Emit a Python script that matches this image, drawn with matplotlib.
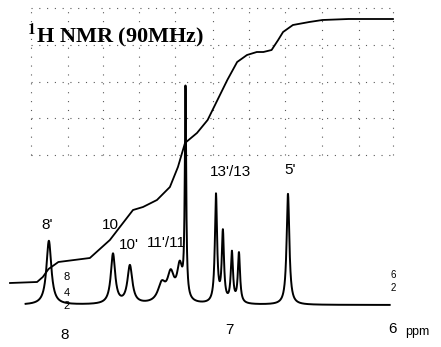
import numpy as np
import matplotlib
matplotlib.use('Agg')
from matplotlib import pyplot as plt

############## DATA ################

# peak table: shift [ppm], height above baseline, half width [ppm]
peak_ppm    = [8.098, 7.707, 7.604, 7.410, 7.355, 7.300, 7.265, 7.079, 7.037, 6.982, 6.939, 6.640]
peak_height = [64,    50,    38,    18,    27,    34,    208,   108,   70,    50,    50,    111]
peak_hw     = [0.018, 0.016, 0.018, 0.028, 0.025, 0.020, 0.005, 0.008, 0.008, 0.008, 0.008, 0.010]
baseline = 42
spec_range = (8.24, 6.02)

# integral trace, read point by point (ppm, height)
integral_ppm = [8.335, 8.17, 8.135, 8.10, 8.04, 7.848, 7.726, 7.665, 7.585, 7.524, 7.439,
                7.360, 7.311, 7.268, 7.195, 7.13, 7.07, 7.01, 6.95, 6.89, 6.83, 6.79,
                6.74, 6.70, 6.67, 6.61, 6.51, 6.43, 6.27, 6.00]
integral_val = [64, 65, 70, 78, 85, 89, 107, 120, 137, 140, 147,
                160, 180, 204, 214, 227, 247, 267, 285, 292, 295, 295,
                297, 307, 315, 322, 325, 327, 328, 328]

grid_ppm = [8.21, 7.98, 7.77, 7.55, 7.33, 7.10, 6.88, 6.66, 6.43, 6.21, 6.00]
grid_y = [339, 302, 265, 229, 192]

peak_labels = [("8'", 8.11, 122), ("10", 7.72, 122), ("10'", 7.61, 102),
               ("11'/11", 7.38, 104), ("13'/13", 6.99, 175), ("5'", 6.63, 177)]
tick_ppm = [8, 7, 6]
tick_labels = ['8', '7', '6']
tick_height = [12, 17, 18]

############## PLOT ################

plt.rcParams['mathtext.fontset'] = 'stix'

fig = plt.figure(figsize=(4.41, 3.47), dpi=100)
ax = fig.add_axes([0, 0, 1, 1])
ax.set_xlim(8.396, 5.707)
ax.set_ylim(0, 347)
ax.axis('off')

# dotted grid in the upper part of the chart paper
for g in grid_ppm:
    ax.plot([g, g], [min(grid_y), max(grid_y)], color='0.35', lw=0.8,
            linestyle=(0, (1, 7)))
for gy in grid_y:
    ax.plot([grid_ppm[0], grid_ppm[-1]], [gy, gy], color='0.35', lw=0.8,
            linestyle=(0, (1, 6)))

# spectrum as a sum of Lorentzian lines
x = np.linspace(spec_range[0], spec_range[1], 3000)
y = np.full_like(x, baseline, dtype=float)
for p, h, w in zip(peak_ppm, peak_height, peak_hw):
    y += h * w**2 / ((x - p)**2 + w**2)
ax.plot(x, y, color='black', lw=1.4)

# integral
ax.plot(integral_ppm, integral_val, color='black', lw=1.3)

ax.text(8.23, 312, r'$^{\mathbf{1}}$H NMR (90MHz)', family='Liberation Serif',
        fontsize=16, fontweight='bold', va='center', ha='left')

for txt, px, py in peak_labels:
    ax.text(px, py, txt, family='Liberation Sans', fontsize=11, ha='center', va='center')

for t, lab, th in zip(tick_ppm, tick_labels, tick_height):
    ax.text(t, th, lab, family='Liberation Sans', fontsize=11, ha='center', va='center')
ax.text(5.85, 15, 'ppm', family='Liberation Sans', fontsize=9, ha='center', va='center')

# small scale marks
for s, yy in zip(['8', '4', '2'], [70, 54, 41]):
    ax.text(7.99, yy, s, family='Liberation Sans', fontsize=8, ha='center', va='center')
for s, yy in zip(['6', '2'], [72, 59]):
    ax.text(6.0, yy, s, family='Liberation Sans', fontsize=7, ha='center', va='center')

plt.savefig('out.png', dpi=100)
plt.close()
